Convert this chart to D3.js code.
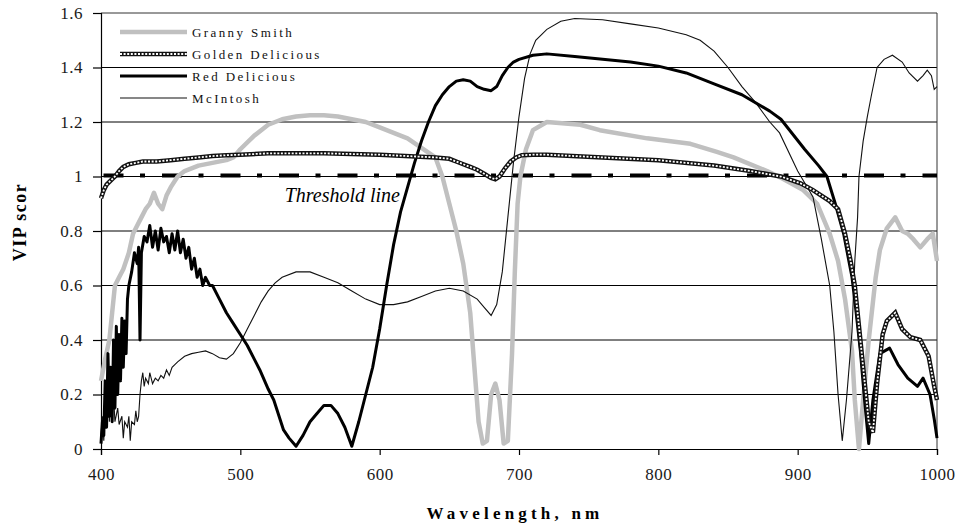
<!DOCTYPE html>
<html>
<head>
<meta charset="utf-8">
<script src="https://cdn.jsdelivr.net/npm/d3@7"></script>
<style>
  body { margin: 0; background: #fff; }
  text { font-family: "Liberation Serif", "DejaVu Serif", serif; }
</style>
</head>
<body>
<div id="chart"></div>
<script>
// VIP scores by wavelength for four apple cultivars

const xTicks = [400, 500, 600, 700, 800, 900, 1000];
const yTicks = [0, 0.2, 0.4, 0.6, 0.8, 1, 1.2, 1.4, 1.6];
const yTickLabels = ['0', '0.2', '0.4', '0.6', '0.8', '1', '1.2', '1.4', '1.6'];
const threshold = 1;

const grannyNm = [400, 403, 406, 408, 410, 413, 416, 420, 423, 426, 429, 432, 435, 438, 441, 444, 447, 450, 455, 460, 470, 480, 490, 495, 500, 510, 520, 530, 540, 550, 560, 570, 580, 590, 600, 620, 640, 645, 650, 655, 660, 665, 668, 671, 674, 677, 680, 683, 686, 689, 692, 695, 697, 699, 701, 705, 710, 720, 744, 758, 792, 823, 842, 854, 878, 890, 904, 914, 923, 929, 934, 939, 941, 944, 947, 951, 956, 959, 964, 970, 975, 979, 983, 988, 993, 997, 1000];
const grannyVip = [0.25, 0.33, 0.4, 0.5, 0.6, 0.63, 0.66, 0.72, 0.79, 0.82, 0.85, 0.88, 0.9, 0.94, 0.9, 0.88, 0.93, 0.96, 1.0, 1.02, 1.04, 1.05, 1.06, 1.07, 1.1, 1.15, 1.19, 1.21, 1.22, 1.225, 1.225, 1.22, 1.21, 1.2, 1.18, 1.14, 1.07, 1.0, 0.9, 0.8, 0.68, 0.5, 0.3, 0.1, 0.02, 0.03, 0.2, 0.24, 0.18, 0.02, 0.03, 0.35, 0.65, 0.9, 1.0, 1.1, 1.17, 1.2, 1.19, 1.17, 1.14, 1.12, 1.09, 1.07, 1.02, 0.99, 0.95, 0.9, 0.79, 0.69, 0.55, 0.36, 0.18, 0.0, 0.18, 0.4, 0.63, 0.73, 0.81, 0.85, 0.8, 0.79, 0.77, 0.74, 0.77, 0.79, 0.69];

const goldenNm = [400, 402, 404, 406, 408, 410, 413, 416, 420, 425, 430, 440, 450, 460, 470, 480, 490, 500, 520, 560, 600, 640, 650, 655, 660, 665, 670, 675, 680, 683, 686, 690, 694, 698, 702, 710, 720, 760, 800, 840, 866, 888, 902, 911, 923, 929, 934, 938, 941, 945, 947, 951, 954, 957, 961, 964, 970, 975, 981, 988, 994, 998, 1000];
const goldenVip = [0.92, 0.95, 0.97, 0.98, 0.99, 1.0, 1.02, 1.035, 1.045, 1.05, 1.055, 1.055, 1.06, 1.065, 1.07, 1.075, 1.078, 1.08, 1.085, 1.085, 1.08, 1.07, 1.065, 1.055, 1.045, 1.035, 1.025, 1.01, 0.995, 0.99, 1.0, 1.03, 1.055, 1.07, 1.078, 1.08, 1.08, 1.07, 1.06, 1.04, 1.02, 1.0, 0.975, 0.95, 0.91, 0.88, 0.79, 0.69, 0.6, 0.4, 0.3, 0.1, 0.06, 0.24, 0.42, 0.47, 0.5, 0.44, 0.41, 0.4, 0.34, 0.23, 0.18];

const redNm = [400, 401, 402, 403, 404, 405, 406, 407, 408, 409, 410, 411, 412, 413, 414, 415, 416, 417, 418, 419, 420, 422, 424, 426, 427, 428, 429, 431, 433, 435, 437, 439, 441, 443, 445, 447, 449, 451, 453, 455, 457, 459, 461, 463, 465, 467, 469, 471, 473, 475, 478, 480, 485, 490, 495, 500, 505, 510, 514, 520, 524, 531, 535, 540, 545, 550, 555, 560, 565, 570, 575, 580, 585, 590, 595, 600, 605, 610, 615, 620, 625, 630, 635, 640, 645, 650, 655, 660, 665, 670, 675, 680, 684, 688, 692, 696, 700, 710, 720, 740, 760, 780, 800, 820, 840, 860, 880, 888, 905, 915, 921, 927, 933, 939, 942, 945, 948, 951, 954, 959, 966, 972, 979, 986, 990, 995, 998, 1000];
const redVip = [0.02, 0.1, 0.05, 0.25, 0.08, 0.35, 0.12, 0.3, 0.1, 0.4, 0.15, 0.45, 0.2, 0.42, 0.25, 0.48, 0.3, 0.47, 0.35, 0.55, 0.6, 0.65, 0.72, 0.68, 0.74, 0.4, 0.72, 0.78, 0.76, 0.82, 0.74, 0.8, 0.73, 0.81, 0.76, 0.78, 0.72, 0.79, 0.73, 0.8, 0.72, 0.77, 0.7, 0.74, 0.66, 0.7, 0.63, 0.66, 0.6, 0.63, 0.6, 0.6, 0.55, 0.5, 0.46, 0.42, 0.38, 0.33, 0.29, 0.22, 0.18, 0.07, 0.04, 0.01, 0.05, 0.1, 0.13, 0.16, 0.16, 0.13, 0.08, 0.01, 0.1, 0.2, 0.3, 0.44, 0.6, 0.75, 0.87, 0.96, 1.05, 1.13, 1.2, 1.26, 1.3, 1.33, 1.35, 1.355, 1.35, 1.33, 1.32, 1.315, 1.33, 1.37, 1.4, 1.42, 1.43, 1.445, 1.45, 1.44, 1.43, 1.42, 1.405, 1.38, 1.34, 1.3, 1.24, 1.21, 1.1, 1.04, 1.0, 0.9, 0.79, 0.63, 0.5, 0.36, 0.18, 0.02, 0.18, 0.35, 0.37, 0.31, 0.26, 0.23, 0.26, 0.2, 0.11, 0.04];

const mcNm = [400, 401, 402, 403, 404, 405, 406, 407, 408, 409, 410, 412, 413, 415, 416, 417, 419, 420, 421, 422, 424, 425, 426, 427, 428, 429, 430, 431, 432, 434, 435, 437, 439, 441, 443, 445, 447, 449, 451, 453, 455, 460, 465, 470, 475, 480, 485, 490, 495, 500, 505, 510, 515, 520, 525, 530, 540, 550, 560, 570, 580, 590, 600, 610, 620, 630, 640, 650, 660, 670, 675, 680, 684, 688, 692, 696, 700, 704, 708, 712, 720, 730, 740, 760, 780, 800, 820, 830, 840, 850, 860, 870, 880, 887, 900, 911, 917, 923, 926, 929, 932, 935, 939, 941, 943, 944, 947, 950, 953, 957, 962, 968, 975, 980, 986, 990, 993, 996, 998, 1000];
const mcVip = [0.05, 0.12, 0.03, 0.18, 0.08, 0.3, 0.1, 0.22, 0.12, 0.2, 0.1, 0.15, 0.09, 0.12, 0.04, 0.1, 0.08, 0.12, 0.03, 0.1, 0.09, 0.14, 0.1, 0.12, 0.2, 0.25, 0.28, 0.23, 0.26, 0.24, 0.28, 0.24, 0.26, 0.25, 0.27, 0.26, 0.29, 0.27, 0.3, 0.31, 0.32, 0.34, 0.35, 0.355, 0.36, 0.35, 0.335, 0.33, 0.35, 0.39, 0.44, 0.49, 0.54, 0.58, 0.61, 0.63, 0.65, 0.65, 0.63, 0.61, 0.58, 0.55, 0.53, 0.53, 0.54, 0.56, 0.58, 0.59, 0.58, 0.55, 0.52, 0.49, 0.53, 0.65, 0.85, 1.05, 1.22, 1.36, 1.45, 1.5, 1.54, 1.57, 1.58, 1.575, 1.56, 1.545, 1.52, 1.5, 1.46, 1.4, 1.33, 1.27, 1.2, 1.16, 1.02, 0.925, 0.77, 0.6, 0.43, 0.2, 0.03, 0.18, 0.43, 0.69, 0.85, 1.0, 1.13, 1.22, 1.3, 1.4, 1.43, 1.445, 1.42, 1.38, 1.35, 1.37, 1.39, 1.37, 1.32, 1.33];

const seriesNames = ['Granny Smith', 'Golden Delicious', 'Red Delicious', 'McIntosh'];

const width = 957, height = 526;
const margin = { top: 13, right: 20, bottom: 77, left: 101 };

const svg = d3.select('#chart').append('svg')
    .attr('width', width)
    .attr('height', height);

const x = d3.scaleLinear().domain([400, 1000]).range([margin.left, width - margin.right]);
const y = d3.scaleLinear().domain([0, 1.6]).range([height - margin.bottom, margin.top]);

const plotW = x(1000) - x(400);

// horizontal grid
svg.append('g')
    .selectAll('line')
    .data(yTicks.slice(1, -1))
    .join('line')
    .attr('x1', x(400)).attr('x2', x(1000))
    .attr('y1', d => y(d)).attr('y2', d => y(d))
    .attr('stroke', '#000')
    .attr('stroke-width', 1);

// frame (top / right)
svg.append('path')
    .attr('d', `M${x(400)},${y(1.6)}H${x(1000)}V${y(0)}`)
    .attr('fill', 'none')
    .attr('stroke', '#333')
    .attr('stroke-width', 1);

// axes
const xAxis = svg.append('g')
    .attr('transform', `translate(0,${y(0)})`)
    .call(d3.axisBottom(x).tickValues(xTicks).tickSize(6).tickPadding(13).tickFormat(d3.format('d')));
const yAxis = svg.append('g')
    .attr('transform', `translate(${x(400)},0)`)
    .call(d3.axisLeft(y).tickValues(yTicks).tickSize(8).tickPadding(10).tickFormat((d, i) => yTickLabels[i]));

[xAxis, yAxis].forEach(a => {
    a.select('.domain').attr('stroke', '#000').attr('stroke-width', 1.2);
    a.selectAll('.tick line').attr('stroke', '#000').attr('stroke-width', 1.2);
    a.selectAll('text')
        .attr('fill', '#1a1a1a')
        .style('font-size', '17px')
        .style('letter-spacing', '0.5px');
});

// threshold dash-dot line
svg.append('line')
    .attr('x1', x(400)).attr('x2', x(1000))
    .attr('y1', y(threshold) - 1).attr('y2', y(threshold) - 1)
    .attr('stroke', '#000')
    .attr('stroke-width', 4)
    .attr('stroke-dasharray', '20,16.5,5,17')
    .attr('stroke-dashoffset', 56);

svg.append('text')
    .attr('x', 400)
    .attr('y', 202)
    .attr('text-anchor', 'end')
    .style('font-style', 'italic')
    .style('font-size', '20px')
    .text('Threshold line');

const line = d3.line().x(d => x(d[0])).y(d => y(d[1]));
const zipSeries = (nm, v) => nm.map((w, i) => [w, v[i]]);

const granny = zipSeries(grannyNm, grannyVip);
const golden = zipSeries(goldenNm, goldenVip);
const red = zipSeries(redNm, redVip);
const mc = zipSeries(mcNm, mcVip);

svg.append('path').datum(granny)
    .attr('d', line).attr('fill', 'none')
    .attr('stroke', '#c0c0c0').attr('stroke-width', 4.5)
    .attr('stroke-linejoin', 'round');

svg.append('path').datum(mc)
    .attr('d', line).attr('fill', 'none')
    .attr('stroke', '#111').attr('stroke-width', 1.1);

svg.append('path').datum(red)
    .attr('d', line).attr('fill', 'none')
    .attr('stroke', '#000').attr('stroke-width', 3)
    .attr('stroke-linejoin', 'round');

// golden: black band with white "beads"
svg.append('path').datum(golden)
    .attr('d', line).attr('fill', 'none')
    .attr('stroke', '#111').attr('stroke-width', 4.5);
svg.append('path').datum(golden)
    .attr('d', line).attr('fill', 'none')
    .attr('stroke', '#fff').attr('stroke-width', 1.8)
    .attr('stroke-dasharray', '2,1.6');

// legend
const legend = svg.append('g');
const legendY = [32, 54, 76, 98];
const lx1 = 120, lx2 = 187;

legend.append('line').attr('x1', lx1).attr('x2', lx2).attr('y1', legendY[0]).attr('y2', legendY[0])
    .attr('stroke', '#c0c0c0').attr('stroke-width', 4.5);
legend.append('line').attr('x1', lx1).attr('x2', lx2).attr('y1', legendY[1]).attr('y2', legendY[1])
    .attr('stroke', '#111').attr('stroke-width', 4.5);
legend.append('line').attr('x1', lx1).attr('x2', lx2).attr('y1', legendY[1]).attr('y2', legendY[1])
    .attr('stroke', '#fff').attr('stroke-width', 1.8).attr('stroke-dasharray', '2,1.6');
legend.append('line').attr('x1', lx1).attr('x2', lx2).attr('y1', legendY[2]).attr('y2', legendY[2])
    .attr('stroke', '#000').attr('stroke-width', 3);
legend.append('line').attr('x1', lx1).attr('x2', lx2).attr('y1', legendY[3]).attr('y2', legendY[3])
    .attr('stroke', '#111').attr('stroke-width', 1.1);

legend.selectAll('text')
    .data(seriesNames)
    .join('text')
    .attr('x', 192)
    .attr('y', (d, i) => legendY[i] + 5)
    .style('font-size', '13px')
    .style('letter-spacing', '2.4px')
    .attr('fill', '#111')
    .text(d => d);

// axis titles
svg.append('text')
    .attr('x', x(400) + plotW / 2 - 4)
    .attr('y', 519)
    .attr('text-anchor', 'middle')
    .style('font-size', '17px')
    .style('font-weight', 'bold')
    .style('letter-spacing', '4.2px')
    .text('Wavelength, nm');

svg.append('text')
    .attr('transform', 'translate(26,222) rotate(-90)')
    .attr('text-anchor', 'middle')
    .style('font-size', '18px')
    .style('font-weight', 'bold')
    .style('letter-spacing', '1.5px')
    .text('VIP scor');
</script>
</body>
</html>
